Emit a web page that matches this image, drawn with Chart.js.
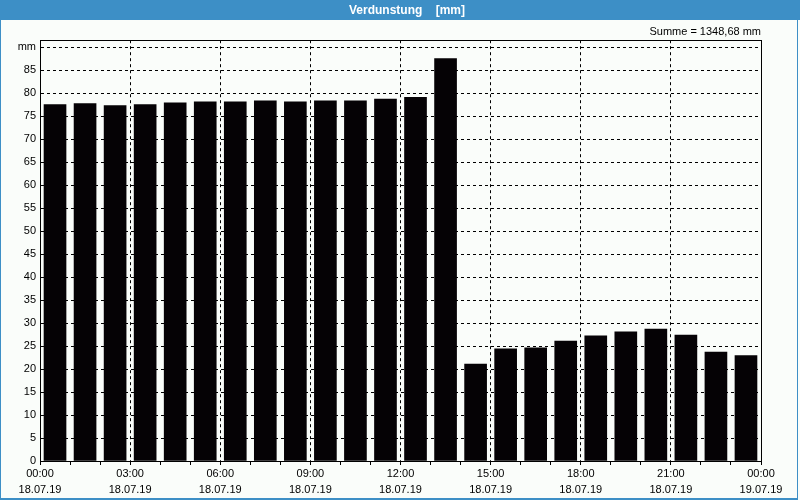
<!DOCTYPE html>
<html>
<head>
<meta charset="utf-8">
<script src="https://cdn.jsdelivr.net/npm/chart.js@4/dist/chart.umd.min.js"></script>
<style>
  html, body { margin: 0; padding: 0; background: #fafdfa; }
  #wrap { width: 800px; height: 500px; position: relative; }
</style>
</head>
<body>
<div id="wrap"><canvas id="c" width="800" height="500"></canvas></div>
<script>
// hour slots (start hour of each bar)
const hours = [0,1,2,3,4,5,6,7,8,9,10,11,12,13,14,15,16,17,18,19,20,21,22,23];
// Verdunstung values [mm]
const values = [77.5,77.7,77.3,77.5,77.9,78.1,78.1,78.3,78.1,78.3,78.3,78.7,79.1,87.5,
                21.1,24.4,24.6,26.1,27.2,28.1,28.7,27.4,23.7,22.9];
// x tick labels every 3 hours
const xTickHours = [0,3,6,9,12,15,18,21,24];
const xTickTimes = ['00:00','03:00','06:00','09:00','12:00','15:00','18:00','21:00','00:00'];
const xTickDates = ['18.07.19','18.07.19','18.07.19','18.07.19','18.07.19','18.07.19','18.07.19','18.07.19','19.07.19'];
// y ticks
const yTickValues = [0,5,10,15,20,25,30,35,40,45,50,55,60,65,70,75,80,85,90];
const titleText = 'Verdunstung    [mm]';
const sumText = 'Summe = 1348,68 mm';
const yUnitLabel = 'mm';

const FONT = '"Liberation Sans", Arial, sans-serif';
const BLUE = '#3d8fc6';

const framePlugin = {
  id: 'frame',
  beforeDraw(chart) {
    const ctx = chart.ctx;
    ctx.save();
    ctx.fillStyle = '#fafdfa';
    ctx.fillRect(0, 0, chart.width, chart.height);
    ctx.fillStyle = BLUE;
    ctx.fillRect(0, 0, chart.width, 20);
    ctx.fillRect(0, 0, 1, chart.height);
    ctx.fillRect(797, 0, 1, chart.height);
    ctx.fillRect(0, 498, 798, 2);
    ctx.fillStyle = '#ffffff';
    ctx.font = 'bold 12px ' + FONT;
    ctx.textAlign = 'center';
    ctx.textBaseline = 'middle';
    ctx.fillText(titleText, 407, 10.5);
    ctx.restore();
  },
  afterDatasetsDraw(chart) {
    const a = chart.chartArea;
    const ctx = chart.ctx;
    ctx.save();
    ctx.strokeStyle = '#000';
    ctx.lineWidth = 1;
    ctx.setLineDash([]);
    ctx.strokeRect(Math.round(a.left) + 0.5, Math.round(a.top) + 0.5,
                   Math.round(a.right - a.left), Math.round(a.bottom - a.top));
    ctx.restore();
  }
};

new Chart(document.getElementById('c'), {
  type: 'bar',
  data: {
    datasets: [{
      data: hours.map((h, i) => ({ x: h + 0.5, y: values[i] })),
      backgroundColor: '#050205',
      borderWidth: 0,
      barThickness: 22
    }]
  },
  plugins: [framePlugin],
  options: {
    responsive: false,
    animation: false,
    layout: { padding: { left: 0, right: 39, top: 20, bottom: 0 } },
    plugins: {
      legend: { display: false },
      tooltip: { enabled: false },
      title: { display: false },
      subtitle: {
        display: true,
        text: sumText,
        align: 'end',
        color: '#000',
        font: { family: FONT, size: 11 },
        padding: { top: 5, bottom: 2 }
      }
    },
    scales: {
      x: {
        type: 'linear',
        min: 0,
        max: 24,
        offset: false,
        afterFit(scale) { scale.height = 39; },
        afterBuildTicks(scale) {
          const t = [];
          for (let h = 0; h <= 24; h++) t.push({ value: h });
          scale.ticks = t;
        },
        ticks: {
          autoSkip: false,
          maxRotation: 0,
          padding: 1,
          color: '#000',
          font: { family: FONT, size: 11, lineHeight: 1.45 },
          callback(v) {
            const k = xTickHours.indexOf(v);
            return k >= 0 ? [xTickTimes[k], xTickDates[k]] : '';
          }
        },
        border: { display: true, color: '#000', dash: [3, 3] },
        grid: {
          offset: false,
          drawOnChartArea: true,
          drawTicks: true,
          tickLength: 4,
          tickColor: '#000',
          color(ctx) {
            const v = ctx.tick && ctx.tick.value;
            return (v % 3 === 0 && v !== 0 && v !== 24) ? '#000' : 'rgba(0,0,0,0)';
          },
          lineWidth: 1
        }
      },
      y: {
        type: 'linear',
        min: 0,
        max: 91.5,
        afterFit(scale) { scale.width = 40; },
        afterBuildTicks(scale) {
          scale.ticks = yTickValues.map(v => ({ value: v }));
        },
        ticks: {
          padding: 4,
          color: '#000',
          font: { family: FONT, size: 11 },
          callback(v) { return v === 90 ? yUnitLabel : String(v); }
        },
        border: { display: true, color: '#000', dash: [3, 3] },
        grid: {
          drawTicks: false,
          color(ctx) {
            const v = ctx.tick && ctx.tick.value;
            return (v > 0) ? '#000' : 'rgba(0,0,0,0)';
          },
          lineWidth: 1
        }
      }
    }
  }
});
</script>
</body>
</html>
